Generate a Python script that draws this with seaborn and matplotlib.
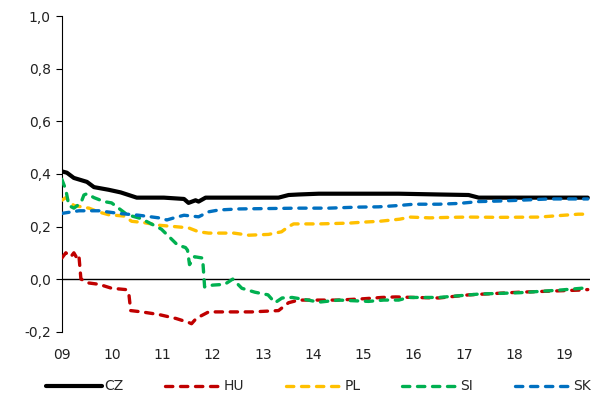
import matplotlib
matplotlib.use("Agg")
import matplotlib.pyplot as plt
import seaborn as sns
import pandas as pd

# Series values (time in fractional years)
cz_t = [2009.00, 2009.10, 2009.24, 2009.50, 2009.64, 2009.93, 2010.17, 2010.49, 2011.03, 2011.43,
        2011.52, 2011.66, 2011.72, 2011.86, 2012.32, 2013.31, 2013.51, 2013.71, 2014.11, 2015.70,
        2016.50, 2017.09, 2017.29, 2019.46]
cz_v = [0.41, 0.405, 0.385, 0.37, 0.35, 0.34, 0.33, 0.31, 0.31, 0.305,
        0.29, 0.30, 0.295, 0.31, 0.31, 0.31, 0.32, 0.322, 0.325, 0.325,
        0.322, 0.32, 0.31, 0.31]

hu_t = [2009.00, 2009.08, 2009.18, 2009.24, 2009.30, 2009.34, 2009.38, 2009.54, 2009.74, 2009.99,
        2010.27, 2010.33, 2010.37, 2010.59, 2010.93, 2011.27, 2011.52, 2011.58, 2011.65, 2011.72,
        2011.92, 2012.38, 2012.78, 2013.31, 2013.51, 2013.71, 2014.50, 2015.00, 2015.36, 2015.64,
        2016.00, 2016.50, 2017.10, 2018.10, 2019.30, 2019.46]
hu_v = [0.08, 0.10, 0.085, 0.10, 0.08, 0.09, 0.0, -0.015, -0.02, -0.035,
        -0.04, -0.05, -0.12, -0.125, -0.135, -0.15, -0.165, -0.17, -0.155, -0.145,
        -0.125, -0.125, -0.125, -0.12, -0.09, -0.08, -0.08, -0.075, -0.07, -0.068,
        -0.07, -0.072, -0.06, -0.05, -0.042, -0.04]

pl_t = [2009.00, 2009.08, 2009.24, 2009.54, 2009.74, 2009.93, 2010.23, 2010.39, 2010.63, 2010.93,
        2011.23, 2011.52, 2011.72, 2011.92, 2012.42, 2012.72, 2013.11, 2013.37, 2013.51, 2013.61,
        2014.11, 2014.71, 2015.02, 2015.32, 2015.72, 2015.92, 2016.32, 2016.72, 2017.09, 2017.69,
        2018.49, 2019.27, 2019.46]
pl_v = [0.30, 0.31, 0.28, 0.27, 0.255, 0.245, 0.24, 0.22, 0.215, 0.205,
        0.20, 0.195, 0.18, 0.175, 0.175, 0.167, 0.17, 0.18, 0.20, 0.21,
        0.21, 0.213, 0.217, 0.22, 0.228, 0.236, 0.233, 0.235, 0.236, 0.235,
        0.236, 0.247, 0.247]

si_t = [2009.00, 2009.08, 2009.14, 2009.24, 2009.38, 2009.44, 2009.50, 2009.64, 2009.84, 2009.99,
        2010.30, 2010.58, 2010.98, 2011.14, 2011.30, 2011.46, 2011.50, 2011.54, 2011.64, 2011.80,
        2011.84, 2012.00, 2012.24, 2012.40, 2012.58, 2012.84, 2013.10, 2013.24, 2013.38, 2013.58,
        2013.90, 2014.11, 2014.50, 2015.10, 2015.40, 2015.70, 2015.90, 2016.50, 2017.30, 2018.10,
        2018.90, 2019.46]
si_v = [0.38, 0.34, 0.28, 0.27, 0.29, 0.32, 0.325, 0.31, 0.295, 0.29,
        0.245, 0.23, 0.19, 0.16, 0.13, 0.12, 0.11, 0.055, 0.085, 0.08,
        -0.03, -0.023, -0.02, 0.0, -0.035, -0.05, -0.06, -0.09, -0.072, -0.07,
        -0.08, -0.088, -0.08, -0.085, -0.08, -0.08, -0.07, -0.07, -0.057, -0.052,
        -0.042, -0.033]

sk_t = [2009.00, 2009.34, 2009.74, 2010.13, 2010.53, 2010.93, 2011.09, 2011.23, 2011.43, 2011.72,
        2011.92, 2012.12, 2012.52, 2013.71, 2014.31, 2014.90, 2015.30, 2015.70, 2016.00, 2016.50,
        2016.90, 2017.29, 2017.69, 2018.09, 2018.69, 2019.46]
sk_v = [0.25, 0.26, 0.26, 0.25, 0.243, 0.233, 0.225, 0.233, 0.243, 0.237,
        0.256, 0.263, 0.267, 0.27, 0.27, 0.274, 0.275, 0.28, 0.285, 0.285,
        0.288, 0.295, 0.297, 0.30, 0.305, 0.305]

year_ticks = [2009, 2010, 2011, 2012, 2013, 2014, 2015, 2016, 2017, 2018, 2019]
year_labels = ["09", "10", "11", "12", "13", "14", "15", "16", "17", "18", "19"]
y_ticks = [-0.2, 0.0, 0.2, 0.4, 0.6, 0.8, 1.0]

series = [
    ("CZ", cz_t, cz_v, "#000000", "solid"),
    ("HU", hu_t, hu_v, "#C00000", "dashed"),
    ("PL", pl_t, pl_v, "#FFC000", "dashed"),
    ("SI", si_t, si_v, "#00B050", "dashed"),
    ("SK", sk_t, sk_v, "#0070C0", "dashed"),
]

sns.set_theme(style="white")
plt.rcParams["font.family"] = ["DejaVu Sans"]

fig = plt.figure(figsize=(6, 4), dpi=100)
ax = fig.add_axes([0.103, 0.171, 0.880, 0.788])

ax.axhline(0, color="#000000", lw=1.0, zorder=1)

for name, t, v, color, style in series:
    df = pd.DataFrame({"t": t, "v": v})
    if style == "solid":
        sns.lineplot(data=df, x="t", y="v", ax=ax, color=color, lw=3.0,
                     label=name, solid_capstyle="round", zorder=3)
    else:
        sns.lineplot(data=df, x="t", y="v", ax=ax, color=color, lw=2.4,
                     label=name, linestyle=(0, (2.2, 2.3)),
                     dash_capstyle="round", zorder=3)

ax.set_xlim(2009, 2019.5)
ax.set_ylim(-0.2, 1.0)
ax.set_xticks(year_ticks)
ax.set_xticklabels(year_labels)
ax.set_yticks(y_ticks)
ax.set_yticklabels([f"{y:.1f}".replace(".", ",") for y in y_ticks])
ax.set_xlabel("")
ax.set_ylabel("")

for s in ["top", "right", "bottom"]:
    ax.spines[s].set_visible(False)
ax.spines["left"].set_color("#000000")
ax.spines["left"].set_linewidth(0.8)
ax.tick_params(axis="y", left=True, length=4, width=0.8, color="#000000",
               labelsize=10, labelcolor="#222222", pad=4)
ax.tick_params(axis="x", bottom=False, length=0, labelsize=10,
               labelcolor="#222222", pad=12)

handles, labels = ax.get_legend_handles_labels()
ax.get_legend().remove()
fig.legend(handles, labels, loc="lower center", ncol=5, frameon=False,
           bbox_to_anchor=(0.531, -0.015), fontsize=10, handlelength=4.0,
           handletextpad=0.2, columnspacing=3.0)

fig.savefig("out.png", dpi=100)
